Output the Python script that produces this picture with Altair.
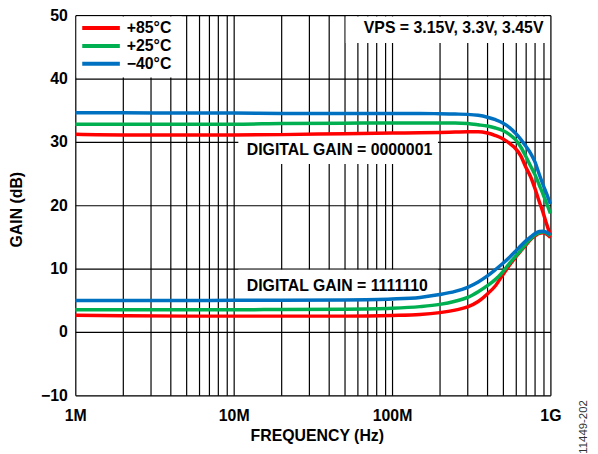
import altair as alt
import pandas as pd

# ---- data ----
freq_mhz = [1, 2, 5, 10, 20, 50, 100, 150, 200, 250, 300, 350, 400, 450, 500,
            550, 600, 650, 700, 750, 800, 850, 900, 950, 1000]

temps = ["+85°C", "+25°C", "\u221240°C"]
colors = ["#FF0000", "#00B050", "#0070C0"]

# DIGITAL GAIN = 0000001 (upper curves)
hi_85 = [31.2, 31.1, 31.1, 31.1, 31.15, 31.3, 31.4, 31.45, 31.5, 31.55, 31.6, 31.6, 31.4,
         31.0, 30.5, 29.8, 29.0, 27.8, 26.0, 24.5, 22.6, 20.6, 18.8, 16.9, 15.3]
hi_25 = [32.8, 32.8, 32.8, 32.8, 32.9, 32.95, 33.0, 33.0, 33.0, 33.0, 32.9, 32.7, 32.5,
         32.2, 31.8, 31.2, 30.4, 29.2, 27.7, 26.2, 24.8, 23.2, 21.7, 20.2, 18.7]
hi_m40 = [34.6, 34.6, 34.55, 34.55, 34.5, 34.5, 34.5, 34.5, 34.45, 34.4, 34.35, 34.2, 33.9,
          33.5, 33.0, 32.3, 31.4, 30.4, 29.3, 28.2, 26.8, 24.9, 23.2, 21.7, 20.2]

# DIGITAL GAIN = 1111110 (lower curves)
lo_85 = [2.65, 2.55, 2.5, 2.5, 2.5, 2.5, 2.6, 2.75, 3.05, 3.45, 3.95, 4.8, 6.0,
         7.3, 9.0, 10.5, 11.7, 12.8, 13.7, 14.6, 15.15, 15.55, 15.65, 15.4, 14.9]
lo_25 = [3.5, 3.5, 3.5, 3.5, 3.55, 3.6, 3.75, 4.0, 4.35, 4.85, 5.45, 6.35, 7.3,
         8.3, 9.5, 10.8, 11.9, 12.9, 13.9, 14.7, 15.35, 15.65, 15.8, 15.6, 15.2]
lo_m40 = [4.95, 4.95, 4.95, 5.0, 5.0, 5.05, 5.2, 5.45, 5.9, 6.4, 7.05, 7.9, 8.85,
          9.85, 10.8, 11.75, 12.7, 13.6, 14.4, 15.0, 15.55, 15.85, 15.9, 15.7, 15.4]

grid_x = [m * 10 ** e for e in (6, 7, 8) for m in range(1, 10)] + [10 ** 9]
y_ticks = [-10, 0, 10, 20, 30, 40, 50]

# annotation texts and their boxes (data coordinates)
note_vps = "VPS = 3.15V, 3.3V, 3.45V"
note_dg1 = "DIGITAL GAIN = 0000001"
note_dg2 = "DIGITAL GAIN = 1111110"
box_x = [1.02e6, 5.1e7, 1.07e7, 1.07e7]
box_x2 = [4.7e6, 0.985e9, 1.95e8, 1.95e8]
box_y = [40.15, 45.6, 26.5, 4.9]
box_y2 = [49.8, 49.8, 31.4, 9.8]

# ---- build tables ----
series = {
    ("hi", temps[0]): hi_85, ("hi", temps[1]): hi_25, ("hi", temps[2]): hi_m40,
    ("lo", temps[0]): lo_85, ("lo", temps[1]): lo_25, ("lo", temps[2]): lo_m40,
}
rows = []
for (setting, t), vals in series.items():
    for f, g in zip(freq_mhz, vals):
        rows.append({"freq": f * 1e6, "gain": g, "temp": t, "setting": setting})
df = pd.DataFrame(rows)

boxes = pd.DataFrame({"freq": box_x, "freq2": box_x2, "gain": box_y, "gain2": box_y2})
notes_r = pd.DataFrame({"freq": [9.04e8], "gain": [47.9], "label": [note_vps]})
notes_l = pd.DataFrame({"freq": [1.21e7, 1.21e7], "gain": [28.75, 7.3],
                        "label": [note_dg1, note_dg2]})

FONT = "Liberation Sans"

xs = alt.Scale(type="log", domain=[1e6, 1e9], nice=False)
ys = alt.Scale(domain=[-10, 50], nice=False, zero=False)

x_axis = alt.Axis(
    values=grid_x,
    labelExpr="datum.value == 1000000 ? '1M' : datum.value == 10000000 ? '10M' : "
              "datum.value == 100000000 ? '100M' : datum.value == 1000000000 ? '1G' : ''",
    grid=True, gridColor="#000000", gridWidth=1.2, gridOpacity=1,
    ticks=False, tickSize=0, domain=False,
    labelFont=FONT, labelFontSize=16, labelFontWeight="bold", labelColor="#000000",
    labelPadding=12, labelFlush=False, labelOverlap=False,
    title="FREQUENCY (Hz)", titleFont=FONT, titleFontSize=16, titleFontWeight="bold",
    titleColor="#000000", titleX=244, titleY=41, titleAlign="center", titleBaseline="middle",
)
y_axis = alt.Axis(
    values=y_ticks, format="d",
    grid=True, gridColor="#000000", gridWidth=1.2, gridOpacity=1,
    ticks=False, tickSize=0, domain=False,
    labelFont=FONT, labelFontSize=16, labelFontWeight="bold", labelColor="#000000",
    labelPadding=8, labelFlush=False, labelOverlap=False,
    title="GAIN (dB)", titleFont=FONT, titleFontSize=16, titleFontWeight="bold",
    titleColor="#000000", titleX=-59, titleY=196, titleAngle=270,
    titleAlign="center", titleBaseline="middle",
)

box_layer = alt.Chart(boxes).mark_rect(fill="white", stroke=None).encode(
    x=alt.X("freq:Q", scale=xs, axis=x_axis),
    x2="freq2:Q",
    y=alt.Y("gain:Q", scale=ys, axis=y_axis),
    y2="gain2:Q",
)

lines = alt.Chart(df).mark_line(strokeWidth=3.5, interpolate="monotone").encode(
    x=alt.X("freq:Q", scale=xs),
    y=alt.Y("gain:Q", scale=ys),
    color=alt.Color(
        "temp:N", sort=temps,
        scale=alt.Scale(domain=temps, range=colors),
        legend=alt.Legend(
            title=None, orient="none", legendX=16, legendY=3, padding=0,
            symbolType="M-2.375,0H2.375", symbolSize=256, symbolStrokeWidth=4,
            rowPadding=0, labelOffset=16,
            labelFont=FONT, labelFontSize=16, labelFontWeight="bold", labelColor="#000000",
        ),
    ),
    detail="setting:N",
)

txt_r = alt.Chart(notes_r).mark_text(
    align="right", baseline="middle", font=FONT, fontSize=16, fontWeight="bold", color="#000000"
).encode(x=alt.X("freq:Q", scale=xs), y=alt.Y("gain:Q", scale=ys), text="label:N")

txt_l = alt.Chart(notes_l).mark_text(
    align="left", baseline="middle", font=FONT, fontSize=16, fontWeight="bold", color="#000000"
).encode(x=alt.X("freq:Q", scale=xs), y=alt.Y("gain:Q", scale=ys), text="label:N")

code_note = alt.Chart(notes_r).mark_text(
    angle=270, align="center", baseline="middle", font=FONT, fontSize=11.5, color="#333333"
).encode(x=alt.value(514), y=alt.value(416), text=alt.value("11449-202"))

chart = alt.layer(box_layer, lines, txt_r, txt_l, code_note).properties(
    width=480, height=384,
    autosize=alt.AutoSizeParams(type="none"),
    padding={"left": 68, "top": 5, "right": 40, "bottom": 56},
).configure_view(stroke="#000000", strokeWidth=2).configure(background="white")

chart.save("out.html", embed_options={"renderer": "svg", "actions": False})
